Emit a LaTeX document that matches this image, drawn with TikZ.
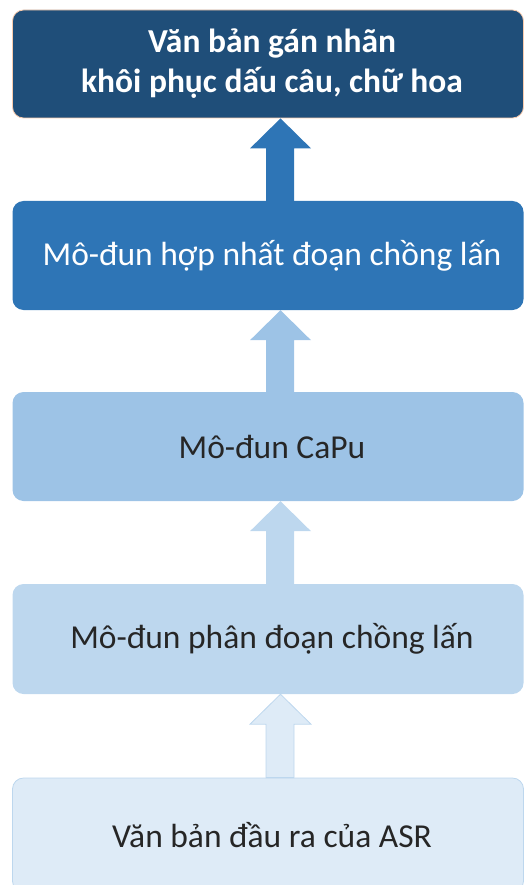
\documentclass[tikz,border=0pt]{standalone}
\usepackage{fontspec}
\setmainfont{Carlito}
\usetikzlibrary{calc}
\definecolor{navy}{HTML}{1F4E79}
\definecolor{midblue}{HTML}{2E75B6}
\definecolor{skyblue}{HTML}{9DC3E6}
\definecolor{paleblue}{HTML}{BDD7EE}
\definecolor{iceblue}{HTML}{DEEBF7}
\definecolor{peach}{HTML}{F8CBAD}
\newcommand\nudge{\hspace*{8pt}}
\tikzset{
  stage/.style={rectangle, rounded corners=11pt, minimum width=511pt,
    align=center, inner sep=0pt, font=\fontsize{33.5}{40}\selectfont},
  flow/.style={line join=miter},
}
% Block arrow pointing up from the top of #1 to the bottom of #2
\newcommand\blockarrow[3]{%
  \path[flow,#3] let \p1=(#1.north), \p2=(#2.south) in
    (266pt,\y1) -- (266pt,\y2-30pt) -- (250pt,\y2-30pt) -- (280.5pt,\y2)
    -- (311pt,\y2-30pt) -- (294pt,\y2-30pt) -- (294pt,\y1) -- cycle;}
\begin{document}
\begin{tikzpicture}[x=1pt,y=-1pt]
\useasboundingbox (0,0) rectangle (525,885);
\node[stage, fill=navy, draw=peach, line width=0.8pt, text=white,
  font=\fontsize{33.5}{40}\selectfont\bfseries, minimum height=108pt]
  (out) at (268,64) {\nudge Văn bản gán nhãn\\\nudge khôi phục dấu câu, chữ hoa};
\node[stage, fill=midblue, text=white, minimum height=109pt]
  (merge) at (268,255.5) {\nudge Mô-đun hợp nhất đoạn chồng lấn};
\node[stage, fill=skyblue, text=black!85, minimum height=109pt]
  (capu) at (268,446.5) {\nudge Mô-đun CaPu};
\node[stage, fill=paleblue, text=black!85, minimum height=110pt]
  (split) at (268,639) {\nudge Mô-đun phân đoạn chồng lấn};
\node[stage, fill=iceblue, draw=paleblue, line width=0.8pt, text=black!85,
  minimum height=114pt] (asr) at (268,835) {\nudge Văn bản đầu ra của ASR};
\blockarrow{asr}{split}{fill=iceblue, draw=paleblue, line width=0.8pt}
\blockarrow{split}{capu}{fill=paleblue}
\blockarrow{capu}{merge}{fill=skyblue}
\blockarrow{merge}{out}{fill=midblue}
\end{tikzpicture}
\end{document}
